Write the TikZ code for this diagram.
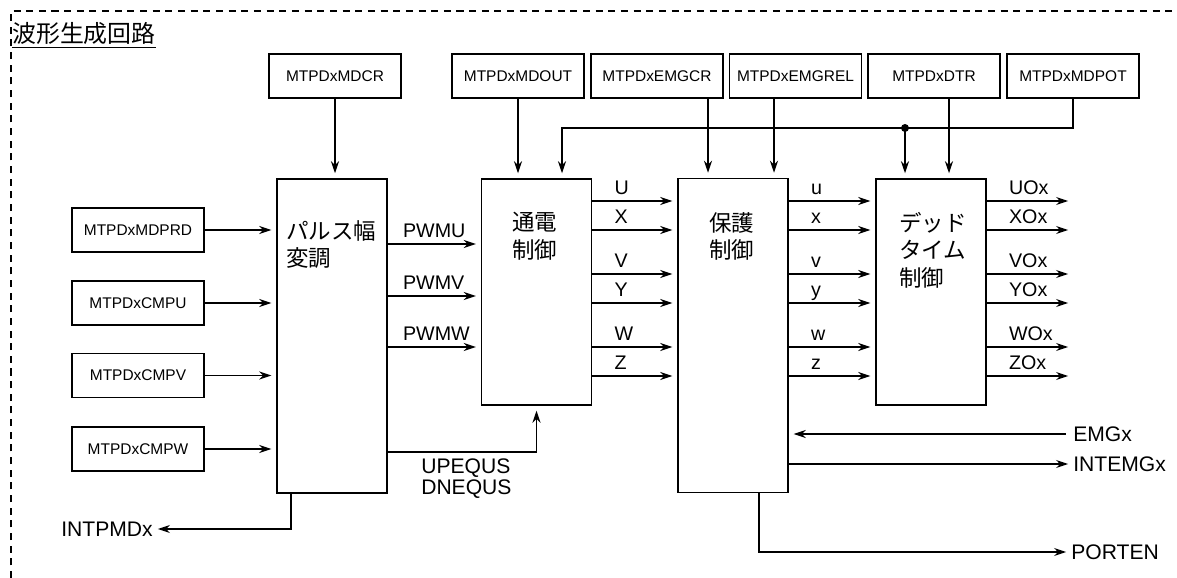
\documentclass[tikz,border=0pt]{standalone}
\usepackage{fontspec}
\setmainfont{Liberation Sans}
\newfontfamily\jpfont{Noto Sans CJK JP}
\usepackage{tikz}
\usetikzlibrary{arrows.meta,calc,positioning}

\begin{document}
\begin{tikzpicture}[x=0.025cm,y=-0.025cm,
    regbox/.style={draw,line width=1.1pt,minimum width=3.3cm,minimum height=1.1cm,inner sep=0,font=\fontsize{11}{13}\selectfont},
    blockbox/.style={draw,line width=1.1pt,inner sep=0,minimum width=2.75cm},
    blocktxt/.style={anchor=north west,align=left,inner sep=0,font=\jpfont\fontsize{16}{19.5}\selectfont},
    sig/.style={line width=1.1pt,-{Stealth[length=3mm,width=2mm]},shorten >=3.5pt},
    sigtxt/.style={anchor=base west,inner sep=0,font=\fontsize{14}{14}\selectfont},
    exttxt/.style={inner sep=0,font=\fontsize{15}{15}\selectfont}]
  \useasboundingbox (0,0) rectangle (1177,578);
  % dashed frame and title
  \draw[line width=1.2pt,dash pattern=on 5pt off 4pt] (11,578) -- (11,11) -- (1177,11);
  \node[anchor=base west,inner sep=0,font=\jpfont\fontsize{17}{17}\selectfont] (title) at (12,43) {\underline{波形生成回路}};
  % register boxes
  \node[regbox] (mdcr) at (335,76) {MTPDxMDCR};
  \node[regbox] (mdout) at (518,76) {MTPDxMDOUT};
  \node[regbox] (emgcr) at (657,76) {MTPDxEMGCR};
  \node[regbox] (emgrel) at (795.5,76) {MTPDxEMGREL};
  \node[regbox] (dtr) at (934,76) {MTPDxDTR};
  \node[regbox] (mdpot) at (1073,76) {MTPDxMDPOT};
  \node[regbox] (mdprd) at (138,230) {MTPDxMDPRD};
  \node[regbox] (cmpu) at (138,303) {MTPDxCMPU};
  \node[regbox] (cmpv) at (138,375.5) {MTPDxCMPV};
  \node[regbox] (cmpw) at (138,449) {MTPDxCMPW};
  % function blocks
  \node[blockbox,minimum height=7.85cm] (pwm) at (332,336) {};
  \node[blockbox,minimum height=5.65cm] (tsuden) at (536.5,292) {};
  \node[blockbox,minimum height=7.85cm] (hogo) at (733,335.5) {};
  \node[blockbox,minimum height=5.65cm] (dead) at (931,292) {};
  \node[blocktxt] (pwmtxt) at (286,220) {パルス幅\\変調};
  \node[blocktxt] (tsudentxt) at (512,212) {通電\\制御};
  \node[blocktxt] (hogotxt) at (709,212) {保護\\制御};
  \node[blocktxt] (deadtxt) at (899,212) {デッド\\タイム\\制御};
  % register inputs
  \coordinate (emgcrout) at ($(emgcr.south)+(51,0)$);
  \coordinate (emgrelout) at ($(emgrel.south)+(-21.5,0)$);
  \coordinate (dtrout) at ($(dtr.south)+(15,0)$);
  \draw[sig] (mdcr.south) -- (mdcr.south |- pwm.north);
  \draw[sig] (mdout.south) -- (mdout.south |- tsuden.north);
  \draw[sig] (emgcrout) -- (emgcrout |- hogo.north);
  \draw[sig] (emgrelout) -- (emgrelout |- hogo.north);
  \draw[sig] (dtrout) -- (dtrout |- dead.north);
  \coordinate (bus) at (562,128);
  \coordinate (dot) at (905,128);
  \draw[sig] (mdpot.south) |- (bus) -- (bus |- tsuden.north);
  \draw[sig] (dot) -- (dot |- dead.north);
  \fill (dot) circle (4);
  \foreach \n in {mdprd,cmpu,cmpv,cmpw}
    \draw[sig] (\n.east) -- (\n.east -| pwm.west);
  % PWM signals
  \foreach \y/\a in {244/PWMU,296/PWMV,347/PWMW}{
    \draw[sig] (pwm.east |- 0,\y) -- (tsuden.west |- 0,\y);
    \node[sigtxt] (lbl\a) at ($(pwm.east |- 0,\y)+(15,-7)$) {\a};
  }
  % phase signals
  \foreach \y/\a/\b/\c [count=\i] in {201/U/u/UOx,230/X/x/XOx,274/V/v/VOx,303/Y/y/YOx,347/W/w/WOx,376/Z/z/ZOx}{
    \coordinate (out\i) at (1073,\y);
    \draw[sig] (tsuden.east |- 0,\y) -- (hogo.west |- 0,\y);
    \draw[sig] (hogo.east |- 0,\y) -- (dead.west |- 0,\y);
    \draw[sig] (dead.east |- 0,\y) -- (out\i);
    \node[sigtxt] (la\i) at ($(tsuden.east |- 0,\y)+(22,-7)$) {\a};
    \node[sigtxt] (lb\i) at ($(hogo.east |- 0,\y)+(22,-7)$) {\b};
    \node[sigtxt] (lc\i) at ($(dead.east |- 0,\y)+(22,-7)$) {\c};
  }
  % bottom signals
  \node[exttxt,anchor=north west,align=left] (equs) at (421,458) {UPEQUS\\DNEQUS};
  \draw[sig] (pwm.east |- 0,452) -| (tsuden.south);
  \node[exttxt,anchor=east] (intpmd) at (153,529) {INTPMDx};
  \draw[sig] ($(pwm.south west)+(15,0)$) |- (intpmd.east);
  \node[exttxt,anchor=west] (emgx) at (1073,434) {EMGx};
  \node[exttxt,anchor=west] (intemg) at (1073,464) {INTEMGx};
  \node[exttxt,anchor=west] (porten) at (1071,552) {PORTEN};
  \draw[sig,shorten <=5pt] (emgx.west) -- (hogo.east |- emgx.west);
  \draw[sig] (hogo.east |- intemg.west) -- (intemg.west);
  \draw[sig] ($(hogo.south)+(26,0)$) |- (porten.west);
\end{tikzpicture}
\end{document}
